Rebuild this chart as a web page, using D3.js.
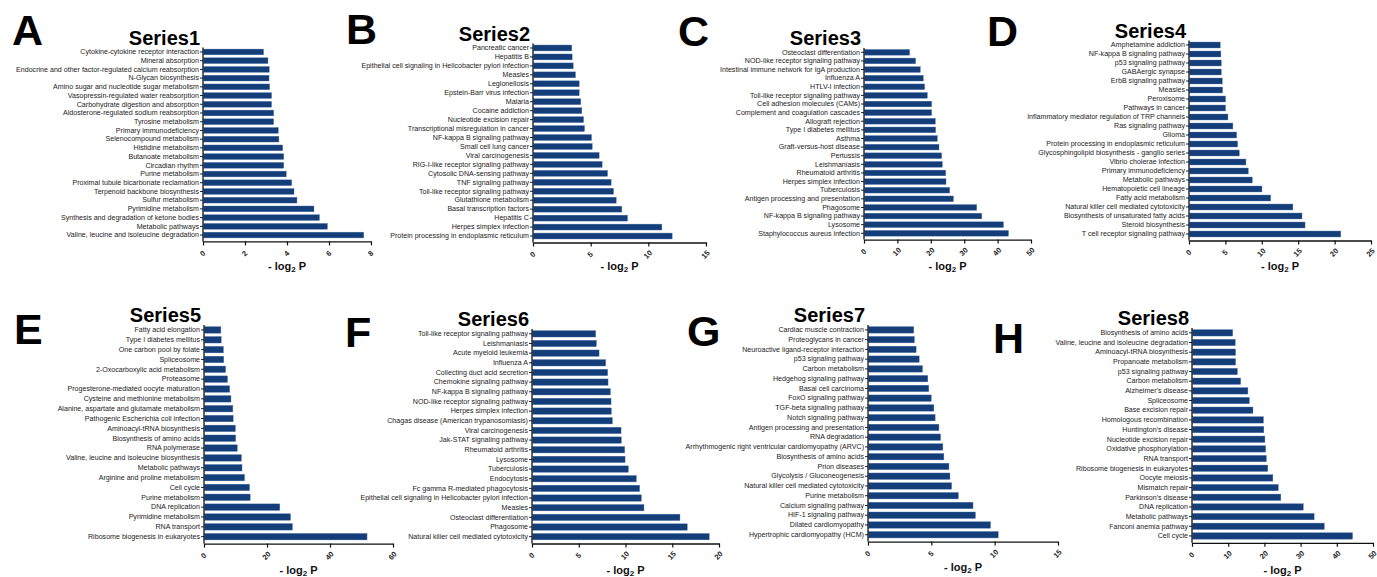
<!DOCTYPE html>
<html>
<head>
<meta charset="utf-8">
<script src="https://cdn.jsdelivr.net/npm/d3@7"></script>
<style>
  body { margin: 0; background: #fff; }
  svg { display: block; font-family: "Liberation Sans", Arial, sans-serif; }
</style>
</head>
<body>
<script>
// ---- data (top to bottom as in the figure) ----
const s1Labels = ["Cytokine-cytokine receptor interaction", "Mineral absorption", "Endocrine and other factor-regulated calcium reabsorption", "N-Glycan biosynthesis", "Amino sugar and nucleotide sugar metabolism", "Vasopressin-regulated water reabsorption", "Carbohydrate digestion and absorption", "Aldosterone-regulated sodium reabsorption", "Tyrosine metabolism", "Primary immunodeficiency", "Selenocompound metabolism", "Histidine metabolism", "Butanoate metabolism", "Circadian rhythm", "Purine metabolism", "Proximal tubule bicarbonate reclamation", "Terpenoid backbone biosynthesis", "Sulfur metabolism", "Pyrimidine metabolism", "Synthesis and degradation of ketone bodies", "Metabolic pathways", "Valine, leucine and isoleucine degradation"];
const s1Values = [2.86, 3.07, 3.13, 3.12, 3.15, 3.24, 3.24, 3.34, 3.34, 3.56, 3.59, 3.77, 3.82, 3.82, 3.94, 4.2, 4.31, 4.45, 5.26, 5.52, 5.9, 7.63];
const s1Ticks = [0, 2, 4, 6, 8];

const s2Labels = ["Pancreatic cancer", "Hepatitis B", "Epithelial cell signaling in Helicobacter pylori infection", "Measles", "Legionellosis", "Epstein-Barr virus infection", "Malaria", "Cocaine addiction", "Nucleotide excision repair", "Transcriptional misregulation in cancer", "NF-kappa B signaling pathway", "Small cell lung cancer", "Viral carcinogenesis", "RIG-I-like receptor signaling pathway", "Cytosolic DNA-sensing pathway", "TNF signaling pathway", "Toll-like receptor signaling pathway", "Glutathione metabolism", "Basal transcription factors", "Hepatitis C", "Herpes simplex infection", "Protein processing in endoplasmic reticulum"];
const s2Values = [3.32, 3.35, 3.44, 3.64, 3.96, 3.96, 4.1, 4.19, 4.34, 4.42, 5.03, 5.09, 5.69, 5.95, 6.42, 6.73, 6.94, 7.17, 7.66, 8.15, 11.13, 12.02];
const s2Ticks = [0, 5, 10, 15];

const s3Labels = ["Osteoclast differentiation", "NOD-like receptor signaling pathway", "Intestinal immune network for IgA production", "Influenza A", "HTLV-I infection", "Toll-like receptor signaling pathway", "Cell adhesion molecules (CAMs)", "Complement and coagulation cascades", "Allograft rejection", "Type I diabetes mellitus", "Asthma", "Graft-versus-host disease", "Pertussis", "Leishmaniasis", "Rheumatoid arthritis", "Herpes simplex infection", "Tuberculosis", "Antigen processing and presentation", "Phagosome", "NF-kappa B signaling pathway", "Lysosome", "Staphylococcus aureus infection"];
const s3Values = [13.5, 15.3, 16.7, 17.6, 18.0, 18.8, 20.1, 20.1, 21.2, 21.3, 21.8, 22.3, 23.1, 23.3, 24.3, 24.4, 25.5, 26.6, 33.6, 35.1, 41.6, 43.1];
const s3Ticks = [0, 10, 20, 30, 40, 50];

const s4Labels = ["Amphetamine addiction", "NF-kappa B signaling pathway", "p53 signaling pathway", "GABAergic synapse", "ErbB signaling pathway", "Measles", "Peroxisome", "Pathways in cancer", "Inflammatory mediator regulation of TRP channels", "Ras signaling pathway", "Glioma", "Protein processing in endoplasmic reticulum", "Glycosphingolipid biosynthesis - ganglio series", "Vibrio cholerae infection", "Primary immunodeficiency", "Metabolic pathways", "Hematopoietic cell lineage", "Fatty acid metabolism", "Natural killer cell mediated cytotoxicity", "Biosynthesis of unsaturated fatty acids", "Steroid biosynthesis", "T cell receptor signaling pathway"];
const s4Values = [4.22, 4.31, 4.36, 4.36, 4.5, 4.54, 4.95, 4.95, 5.28, 5.96, 6.47, 6.61, 6.83, 7.75, 8.07, 8.62, 9.95, 11.15, 14.2, 15.45, 15.87, 20.78];
const s4Ticks = [0, 5, 10, 15, 20, 25];

const s5Labels = ["Fatty acid elongation", "Type I diabetes mellitus", "One carbon pool by folate", "Spliceosome", "2-Oxocarboxylic acid metabolism", "Proteasome", "Progesterone-mediated oocyte maturation", "Cysteine and methionine metabolism", "Alanine, aspartate and glutamate metabolism", "Pathogenic Escherichia coli infection", "Aminoacyl-tRNA biosynthesis", "Biosynthesis of amino acids", "RNA polymerase", "Valine, leucine and isoleucine biosynthesis", "Metabolic pathways", "Arginine and proline metabolism", "Cell cycle", "Purine metabolism", "DNA replication", "Pyrimidine metabolism", "RNA transport", "Ribosome biogenesis in eukaryotes"];
const s5Values = [5.2, 5.3, 6.0, 6.1, 6.7, 7.3, 8.0, 8.4, 9.0, 9.1, 9.8, 9.9, 10.4, 11.7, 11.9, 12.7, 14.3, 14.5, 23.9, 27.3, 27.9, 51.6];
const s5Ticks = [0, 20, 40, 60];

const s6Labels = ["Toll-like receptor signaling pathway", "Leishmaniasis", "Acute myeloid leukemia", "Influenza A", "Collecting duct acid secretion", "Chemokine signaling pathway", "NF-kappa B signaling pathway", "NOD-like receptor signaling pathway", "Herpes simplex infection", "Chagas disease (American trypanosomiasis)", "Viral carcinogenesis", "Jak-STAT signaling pathway", "Rheumatoid arthritis", "Lysosome", "Tuberculosis", "Endocytosis", "Fc gamma R-mediated phagocytosis", "Epithelial cell signaling in Helicobacter pylori infection", "Measles", "Osteoclast differentiation", "Phagosome", "Natural killer cell mediated cytotoxicity"];
const s6Values = [6.76, 6.83, 7.12, 7.83, 8.04, 8.08, 8.33, 8.4, 8.43, 8.54, 9.47, 9.5, 9.86, 9.9, 10.25, 11.1, 11.46, 11.64, 11.92, 15.77, 16.55, 18.9];
const s6Ticks = [0, 5, 10, 15, 20];

const s7Labels = ["Cardiac muscle contraction", "Proteoglycans in cancer", "Neuroactive ligand-receptor interaction", "p53 signaling pathway", "Carbon metabolism", "Hedgehog signaling pathway", "Basal cell carcinoma", "FoxO signaling pathway", "TGF-beta signaling pathway", "Notch signaling pathway", "Antigen processing and presentation", "RNA degradation", "Arrhythmogenic right ventricular cardiomyopathy (ARVC)", "Biosynthesis of amino acids", "Prion diseases", "Glycolysis / Gluconeogenesis", "Natural killer cell mediated cytotoxicity", "Purine metabolism", "Calcium signaling pathway", "HIF-1 signaling pathway", "Dilated cardiomyopathy", "Hypertrophic cardiomyopathy (HCM)"];
const s7Values = [3.57, 3.62, 3.76, 4.0, 4.26, 4.68, 4.76, 4.95, 5.16, 5.26, 5.56, 5.69, 5.87, 5.95, 6.35, 6.43, 6.56, 7.09, 8.25, 8.44, 9.63, 10.24];
const s7Ticks = [0, 5, 10, 15];

const s8Labels = ["Biosynthesis of amino acids", "Valine, leucine and isoleucine degradation", "Aminoacyl-tRNA biosynthesis", "Propanoate metabolism", "p53 signaling pathway", "Carbon metabolism", "Alzheimer's disease", "Spliceosome", "Base excision repair", "Homologous recombination", "Huntington's disease", "Nucleotide excision repair", "Oxidative phosphorylation", "RNA transport", "Ribosome biogenesis in eukaryotes", "Oocyte meiosis", "Mismatch repair", "Parkinson's disease", "DNA replication", "Metabolic pathways", "Fanconi anemia pathway", "Cell cycle"];
const s8Values = [11.1, 11.8, 11.9, 11.9, 12.4, 13.3, 15.3, 15.7, 16.7, 19.6, 19.7, 20.0, 20.2, 20.4, 20.8, 22.2, 23.7, 24.4, 30.6, 33.6, 36.4, 44.2];
const s8Ticks = [0, 10, 20, 30, 40, 50];

const panelLetters = ["A", "B", "C", "D", "E", "F", "G", "H"];
const seriesNames = ["Series1", "Series2", "Series3", "Series4", "Series5", "Series6", "Series7", "Series8"];
const allLabels = [s1Labels, s2Labels, s3Labels, s4Labels, s5Labels, s6Labels, s7Labels, s8Labels];
const allValues = [s1Values, s2Values, s3Values, s4Values, s5Values, s6Values, s7Values, s8Values];
const allTicks = [s1Ticks, s2Ticks, s3Ticks, s4Ticks, s5Ticks, s6Ticks, s7Ticks, s8Ticks];

// ---- layout (pixel placement of each panel) ----
const layout = [
  { x0: 203, x1: 371, top: 47.6, bottom: 239.4, lx: 12, ly: 45, xl: 270 },
  { x0: 533, x1: 706, top: 43.5, bottom: 240.5, lx: 346, ly: 44, xl: 270 },
  { x0: 864, x1: 1031, top: 48, bottom: 237.6, lx: 678, ly: 46, xl: 270 },
  { x0: 1189, x1: 1371, top: 40.5, bottom: 238.5, lx: 987, ly: 46, xl: 270 },
  { x0: 204, x1: 393, top: 325, bottom: 541.6, lx: 14, ly: 344, xl: 574 },
  { x0: 532, x1: 719, top: 329, bottom: 541.5, lx: 345, ly: 347, xl: 574 },
  { x0: 868, x1: 1058, top: 325, bottom: 539.6, lx: 687, ly: 346, xl: 571 },
  { x0: 1192, x1: 1373, top: 328, bottom: 540.8, lx: 993, ly: 353, xl: 574 }
];

const barColor = "#143e7a";

const svg = d3.select("body").append("svg")
  .attr("width", 1377)
  .attr("height", 577);

function drawPanel(g, i) {
  const L = layout[i];
  const labels = allLabels[i];
  const values = allValues[i];
  const ticks = allTicks[i];
  const axisY = L.bottom + 2;

  const x = d3.scaleLinear().domain([0, d3.max(ticks)]).range([L.x0, L.x1]);
  const y = d3.scaleBand().domain(labels).range([L.top, L.bottom])
    .paddingInner(0.34).paddingOuter(0.17);

  // bars
  g.append("g")
    .selectAll("rect")
    .data(labels)
    .join("rect")
    .attr("x", x(0) + 0.5)
    .attr("y", d => y(d))
    .attr("width", (d, j) => x(values[j]) - x(0))
    .attr("height", y.bandwidth())
    .attr("fill", barColor)
    .attr("stroke", "#4a70a4")
    .attr("stroke-width", 0.4);

  // category axis
  const ya = g.append("g")
    .attr("transform", `translate(${L.x0},0)`)
    .call(d3.axisLeft(y).tickSize(3).tickPadding(1).tickSizeOuter(0));
  ya.select(".domain").remove();
  ya.selectAll("line").attr("stroke", "#222");
  ya.selectAll("text")
    .attr("font-size", 7.1)
    .attr("fill", "#222");
  g.append("line")
    .attr("x1", L.x0).attr("x2", L.x0)
    .attr("y1", L.top).attr("y2", axisY)
    .attr("stroke", "#111").attr("stroke-width", 1.3);

  // value axis
  const xa = g.append("g")
    .attr("transform", `translate(0,${axisY})`)
    .call(d3.axisBottom(x).tickValues(ticks).tickSize(4).tickSizeOuter(0));
  xa.select(".domain").attr("stroke", "#111").attr("stroke-width", 1.3);
  xa.selectAll("line").attr("stroke", "#111").attr("stroke-width", 1.2);
  xa.selectAll("text")
    .attr("y", 0).attr("dy", "0.35em")
    .attr("text-anchor", "middle")
    .attr("transform", "translate(-1,12) rotate(-45)")
    .attr("font-size", 7.5)
    .attr("font-weight", "bold")
    .attr("fill", "#222");

  // axis title
  const xt = g.append("text")
    .attr("x", (L.x0 + L.x1) / 2)
    .attr("y", L.xl)
    .attr("text-anchor", "middle")
    .attr("font-size", 11)
    .attr("font-weight", "bold")
    .attr("fill", "#111");
  xt.append("tspan").text("- log");
  xt.append("tspan").attr("font-size", 8).attr("dy", 2).text("2");
  xt.append("tspan").attr("dy", -2).text(" P");

  // series title
  g.append("text")
    .attr("x", L.x0 - 3)
    .attr("y", L.top - 3)
    .attr("text-anchor", "end")
    .attr("font-size", 20)
    .attr("font-weight", "bold")
    .attr("fill", "#000")
    .text(seriesNames[i]);

  // panel letter
  g.append("text")
    .attr("x", L.lx)
    .attr("y", L.ly)
    .attr("font-size", 43)
    .attr("font-weight", "bold")
    .attr("fill", "#000")
    .text(panelLetters[i]);
}

panelLetters.forEach((d, i) => drawPanel(svg.append("g"), i));
</script>
</body>
</html>
